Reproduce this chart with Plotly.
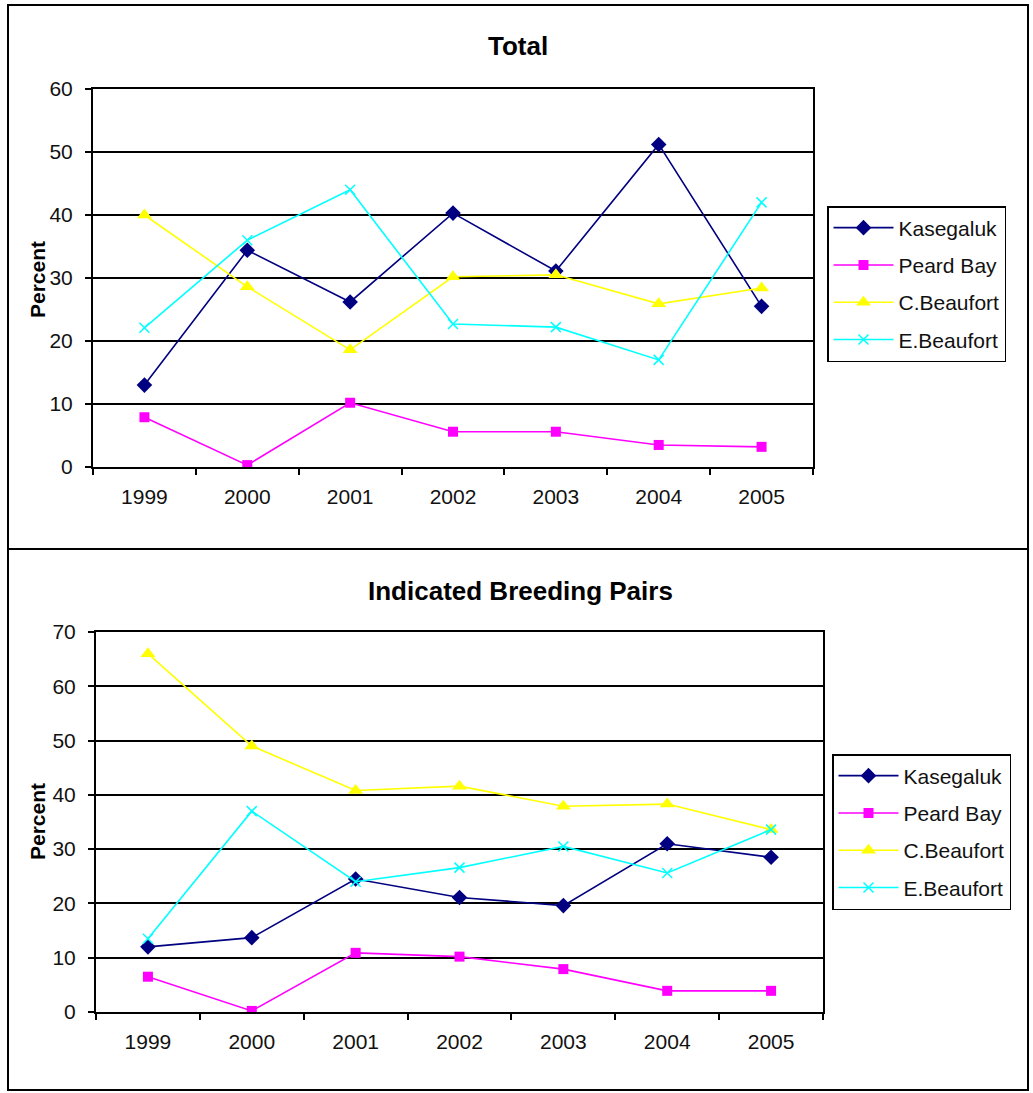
import plotly.graph_objects as go

years = ["1999", "2000", "2001", "2002", "2003", "2004", "2005"]
series_names = ["Kasegaluk", "Peard Bay", "C.Beaufort", "E.Beaufort"]

total_kasegaluk = [13.0, 34.4, 26.2, 40.3, 31.1, 51.2, 25.5]
total_peard_bay = [7.9, 0.3, 10.2, 5.6, 5.6, 3.5, 3.2]
total_c_beaufort = [40.0, 28.6, 18.6, 30.2, 30.5, 25.9, 28.4]
total_e_beaufort = [22.1, 36.0, 44.0, 22.7, 22.2, 17.0, 42.0]

ibp_kasegaluk = [12.0, 13.7, 24.5, 21.1, 19.6, 31.0, 28.5]
ibp_peard_bay = [6.5, 0.2, 10.9, 10.2, 7.9, 3.9, 3.9]
ibp_c_beaufort = [66.0, 49.0, 40.8, 41.6, 37.9, 38.3, 33.6]
ibp_e_beaufort = [13.5, 37.0, 24.0, 26.6, 30.5, 25.6, 33.6]

top_title = "Total"
bottom_title = "Indicated Breeding Pairs"
y_title = "Percent"

W, H = 1033, 1093
FONT = "Liberation Sans, Arial, sans-serif"

styles = [
    dict(color="#000080", symbol="diamond", size=12),
    dict(color="#FF00FF", symbol="square", size=10),
    dict(color="#FFFF00", symbol="triangle-up", size=13),
    dict(color="#00FFFF", symbol="x-thin", size=10),
]


def px_x(p):
    return p / W


def px_y(p):
    return 1 - p / H


fig = go.Figure()

top_data = [total_kasegaluk, total_peard_bay, total_c_beaufort, total_e_beaufort]
bot_data = [ibp_kasegaluk, ibp_peard_bay, ibp_c_beaufort, ibp_e_beaufort]

for name, vals, st in zip(series_names, top_data, styles):
    marker = dict(symbol=st["symbol"], size=st["size"], color=st["color"])
    if st["symbol"] == "x-thin":
        marker["line"] = dict(color=st["color"], width=1.5)
    fig.add_trace(go.Scatter(
        x=years, y=vals, name=name, mode="lines+markers",
        line=dict(color=st["color"], width=1.6), marker=marker,
        xaxis="x", yaxis="y", legend="legend", legendgroup="t" + name,
    ))

for name, vals, st in zip(series_names, bot_data, styles):
    marker = dict(symbol=st["symbol"], size=st["size"], color=st["color"])
    if st["symbol"] == "x-thin":
        marker["line"] = dict(color=st["color"], width=1.5)
    fig.add_trace(go.Scatter(
        x=years, y=vals, name=name, mode="lines+markers",
        line=dict(color=st["color"], width=1.6), marker=marker,
        xaxis="x2", yaxis="y2", legend="legend2", legendgroup="b" + name,
    ))

xaxis_common = dict(
    type="category", range=[-0.5, 6.5], tickson="boundaries",
    ticks="outside", ticklen=6, tickwidth=1.5, tickcolor="black",
    showline=True, linecolor="black", linewidth=2, mirror=True,
    showgrid=False, zeroline=False, ticklabelstandoff=10, automargin=False,
    tickfont=dict(family=FONT, size=21, color="#111"), fixedrange=True,
)
yaxis_common = dict(
    ticks="outside", ticklen=6, tickwidth=1.5, tickcolor="black",
    showline=True, linecolor="black", linewidth=2, mirror=True,
    showgrid=True, gridcolor="black", gridwidth=1.6, zeroline=False,
    ticklabelstandoff=8, automargin=False,
    tickfont=dict(family=FONT, size=21, color="#111"), fixedrange=True,
)

legend_common = dict(
    xanchor="left", yanchor="top",
    bordercolor="black", borderwidth=1.5, bgcolor="white",
    font=dict(family=FONT, size=21, color="#111"),
    tracegroupgap=7, traceorder="grouped", itemwidth=60,
)

fig.update_layout(
    width=W, height=H,
    margin=dict(l=0, r=0, t=0, b=0, autoexpand=False),
    paper_bgcolor="white", plot_bgcolor="white",
    font=dict(family=FONT, color="black"),
    xaxis=dict(xaxis_common, domain=[px_x(93), px_x(813)], anchor="y"),
    yaxis=dict(yaxis_common, domain=[px_y(467), px_y(89)], anchor="x",
               range=[0, 60], dtick=10),
    xaxis2=dict(xaxis_common, domain=[px_x(96), px_x(823)], anchor="y2"),
    yaxis2=dict(yaxis_common, domain=[px_y(1012), px_y(632)], anchor="x2",
                range=[0, 70], dtick=10),
    legend=dict(legend_common, x=px_x(827), y=px_y(206)),
    legend2=dict(legend_common, x=px_x(832), y=px_y(754)),
    showlegend=True,
)

# titles
fig.add_annotation(text="<b>" + top_title + "</b>", xref="paper", yref="paper",
                   x=px_x(518), y=px_y(46), showarrow=False,
                   font=dict(family=FONT, size=26, color="black"),
                   xanchor="center", yanchor="middle")
fig.add_annotation(text="<b>" + bottom_title + "</b>", xref="paper", yref="paper",
                   x=px_x(520), y=px_y(591), showarrow=False,
                   font=dict(family=FONT, size=26, color="black"),
                   xanchor="center", yanchor="middle")
fig.add_annotation(text="<b>" + y_title + "</b>", xref="paper", yref="paper",
                   x=px_x(37), y=px_y(280), showarrow=False, textangle=-90,
                   font=dict(family=FONT, size=21, color="black"),
                   xanchor="center", yanchor="middle")
fig.add_annotation(text="<b>" + y_title + "</b>", xref="paper", yref="paper",
                   x=px_x(37), y=px_y(822), showarrow=False, textangle=-90,
                   font=dict(family=FONT, size=21, color="black"),
                   xanchor="center", yanchor="middle")

# panel frames
fig.add_shape(type="rect", xref="paper", yref="paper",
              x0=px_x(8), x1=px_x(1028), y0=px_y(549), y1=px_y(5),
              line=dict(color="black", width=2), layer="below")
fig.add_shape(type="rect", xref="paper", yref="paper",
              x0=px_x(8), x1=px_x(1028), y0=px_y(1090), y1=px_y(549),
              line=dict(color="black", width=2), layer="below")

fig.write_html("out.html")
